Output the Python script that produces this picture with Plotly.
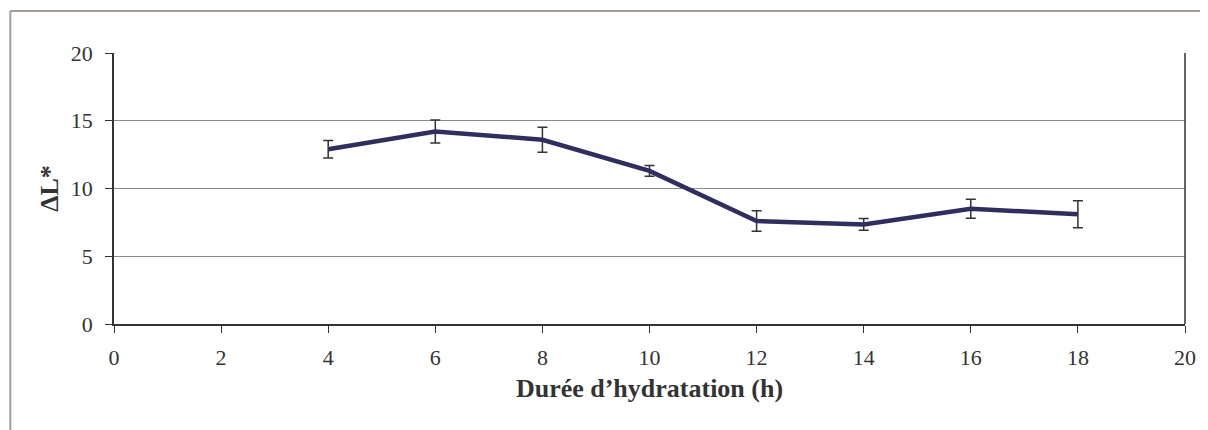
import plotly.graph_objects as go

# Durée d'hydratation (h) vs delta L*
hours = [4, 6, 8, 10, 12, 14, 16, 18]
delta_l = [12.9, 14.2, 13.6, 11.3, 7.6, 7.35, 8.5, 8.1]
err = [0.65, 0.85, 0.92, 0.4, 0.75, 0.43, 0.7, 1.0]

x_ticks = list(range(0, 21, 2))
y_ticks = [0, 5, 10, 15, 20]

axis_col = '#333333'
frame_col = '#a89a96'

fig = go.Figure()

fig.add_trace(go.Scatter(
    x=hours, y=delta_l, mode='lines',
    line=dict(color='#2e2e62', width=4.5),
    error_y=dict(type='data', array=err, visible=True,
                 color=axis_col, thickness=1.5, width=5),
    showlegend=False,
))

# outer chart frame (top and left edges visible) + right edge of plot area
fig.add_shape(type='line', xref='paper', yref='paper',
              x0=-0.0968, x1=1.2, y0=1.155, y1=1.155,
              line=dict(color=frame_col, width=2))
fig.add_shape(type='line', xref='paper', yref='paper',
              x0=-0.0968, x1=-0.0968, y0=1.155, y1=-0.5,
              line=dict(color=frame_col, width=2))
fig.add_shape(type='line', xref='paper', yref='paper',
              x0=1, x1=1, y0=0, y1=1,
              line=dict(color=axis_col, width=1.5))

# page has an 8px body margin, so the figure is 8px smaller on each side
fig.update_layout(
    width=1200, height=422,
    margin=dict(l=106, r=20, t=45, b=106),
    plot_bgcolor='white',
    paper_bgcolor='white',
    font=dict(family='Liberation Serif, Times New Roman, serif', color=axis_col),
    xaxis=dict(
        range=[0, 20], tickvals=x_ticks, showgrid=False, zeroline=False,
        showline=True, linecolor=axis_col, linewidth=1.5,
        ticks='outside', ticklen=7, tickcolor=axis_col, tickwidth=1,
        tickfont=dict(size=22), ticklabelstandoff=6,
        title=dict(text='<b>Durée d’hydratation (h)</b>', font=dict(size=26), standoff=10),
    ),
    yaxis=dict(
        range=[0, 20], tickvals=y_ticks, showgrid=True, gridcolor='#8c8c8c', gridwidth=1,
        zeroline=False, showline=True, linecolor=axis_col, linewidth=1.5,
        ticks='outside', ticklen=7, tickcolor=axis_col, tickwidth=1,
        tickfont=dict(size=22), ticklabelstandoff=8,
        title=dict(text='<b>ΔL*</b>', font=dict(size=26), standoff=5),
    ),
)

fig.write_html("out.html")
